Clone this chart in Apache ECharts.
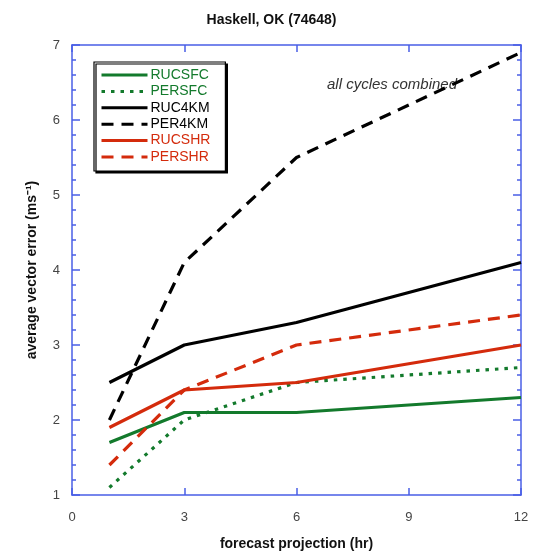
<!DOCTYPE html>
<html>
<head>
<meta charset="utf-8">
<script src="https://cdn.jsdelivr.net/npm/echarts@6/dist/echarts.min.js"></script>
<style>html,body{margin:0;padding:0;background:#fff}#c{width:543px;height:559px}</style>
</head>
<body>
<div id="c"></div>
<script>
const hours = [1, 3, 6, 12];
const RUCSFC = [1.7, 2.1, 2.1, 2.3];
const PERSFC = [1.1, 2.0, 2.5, 2.7];
const RUC4KM = [2.5, 3.0, 3.3, 4.1];
const PER4KM = [2.0, 4.1, 5.5, 6.9];
const RUCSHR = [1.9, 2.4, 2.5, 3.0];
const PERSHR = [1.4, 2.4, 3.0, 3.4];
const xTicks = [0, 3, 6, 9, 12];
const yTicks = [1, 2, 3, 4, 5, 6, 7];

const GREEN = '#137a2c', RED = '#d42b0c', BLACK = '#000000', AXIS = '#4a5fe6';
const pairs = v => hours.map((h, i) => [h, v[i]]);
const mk = (name, data, color, type) => ({
  name, type: 'line', data: pairs(data), symbol: 'none',
  lineStyle: { color, width: 3.2, type: type === 'dot' ? [3.5, 6] : type === 'dash' ? [12, 8] : 'solid' },
  itemStyle: { color }, z: 3
});

const chart = echarts.init(document.getElementById('c'), null, { renderer: 'canvas' });
const axisLine = { show: true, onZero: false, lineStyle: { color: AXIS, width: 1.5 } };
const tickStyle = { color: AXIS, width: 1.5 };
const font = 'Liberation Sans';
const minorAxis = (pos) => ({
  type: 'value', min: 1, max: 7, interval: 0.2, position: pos,
  axisLine: { show: false, onZero: false }, axisTick: { show: true, inside: true, length: 4, lineStyle: tickStyle },
  axisLabel: { show: false }, splitLine: { show: false }
});
chart.setOption({
  animation: false,
  title: { text: 'Haskell, OK (74648)', left: 'center', top: 8,
    textStyle: { fontFamily: font, fontSize: 14, fontWeight: 'bold', color: '#111' } },
  grid: { left: 72, right: 22, top: 45, bottom: 64 },
  xAxis: [
    { type: 'value', min: 0, max: 12, interval: 3, position: 'bottom',
      axisLine, axisTick: { show: true, inside: true, length: 7, lineStyle: tickStyle },
      axisLabel: { color: '#444', fontFamily: font, fontSize: 13, margin: 16 },
      splitLine: { show: false },
      name: 'forecast projection (hr)', nameLocation: 'middle', nameGap: 42,
      nameTextStyle: { fontFamily: font, fontSize: 14, fontWeight: 'bold', color: '#111' } },
    { type: 'value', min: 0, max: 12, interval: 3, position: 'top',
      axisLine, axisTick: { show: true, inside: true, length: 7, lineStyle: tickStyle },
      axisLabel: { show: false }, splitLine: { show: false } }
  ],
  yAxis: [
    { type: 'value', min: 1, max: 7, interval: 1, position: 'left',
      axisLine, axisTick: { show: true, inside: true, length: 8, lineStyle: tickStyle },
      axisLabel: { color: '#444', fontFamily: font, fontSize: 13, margin: 12 },
      splitLine: { show: false },
      name: 'average vector error (ms⁻¹)', nameLocation: 'middle', nameGap: 33,
      nameTextStyle: { fontFamily: font, fontSize: 14, fontWeight: 'bold', color: '#111' } },
    { type: 'value', min: 1, max: 7, interval: 1, position: 'right',
      axisLine, axisTick: { show: true, inside: true, length: 8, lineStyle: tickStyle },
      axisLabel: { show: false }, splitLine: { show: false } },
    minorAxis('left'),
    minorAxis('right')
  ],
  legend: {
    orient: 'vertical', left: 94, top: 62, padding: [6, 15, 7, 6], itemGap: 2.4,
    itemWidth: 46, itemHeight: 14,
    backgroundColor: '#fff', borderColor: '#000', borderWidth: 1.2,
    shadowColor: 'rgba(0,0,0,1)', shadowOffsetX: 2, shadowOffsetY: 2, shadowBlur: 0,
    itemStyle: { opacity: 0 },
    lineStyle: { width: 3 },
    textStyle: { fontFamily: font, fontSize: 14, padding: [0, 0, 0, -2] },
    data: [
      { name: 'RUCSFC', textStyle: { color: GREEN } },
      { name: 'PERSFC', textStyle: { color: GREEN } },
      { name: 'RUC4KM', textStyle: { color: BLACK } },
      { name: 'PER4KM', textStyle: { color: BLACK } },
      { name: 'RUCSHR', textStyle: { color: RED } },
      { name: 'PERSHR', textStyle: { color: RED } }
    ]
  },
  graphic: [{
    type: 'text', left: 327, top: 77,
    style: { text: 'all cycles combined', fontFamily: font, fontSize: 15, fontStyle: 'italic', fill: '#333' }
  }],
  series: [
    mk('RUCSFC', RUCSFC, GREEN, 'solid'),
    mk('PERSFC', PERSFC, GREEN, 'dot'),
    mk('RUC4KM', RUC4KM, BLACK, 'solid'),
    mk('PER4KM', PER4KM, BLACK, 'dash'),
    mk('RUCSHR', RUCSHR, RED, 'solid'),
    mk('PERSHR', PERSHR, RED, 'dash')
  ]
});
</script>
</body>
</html>
